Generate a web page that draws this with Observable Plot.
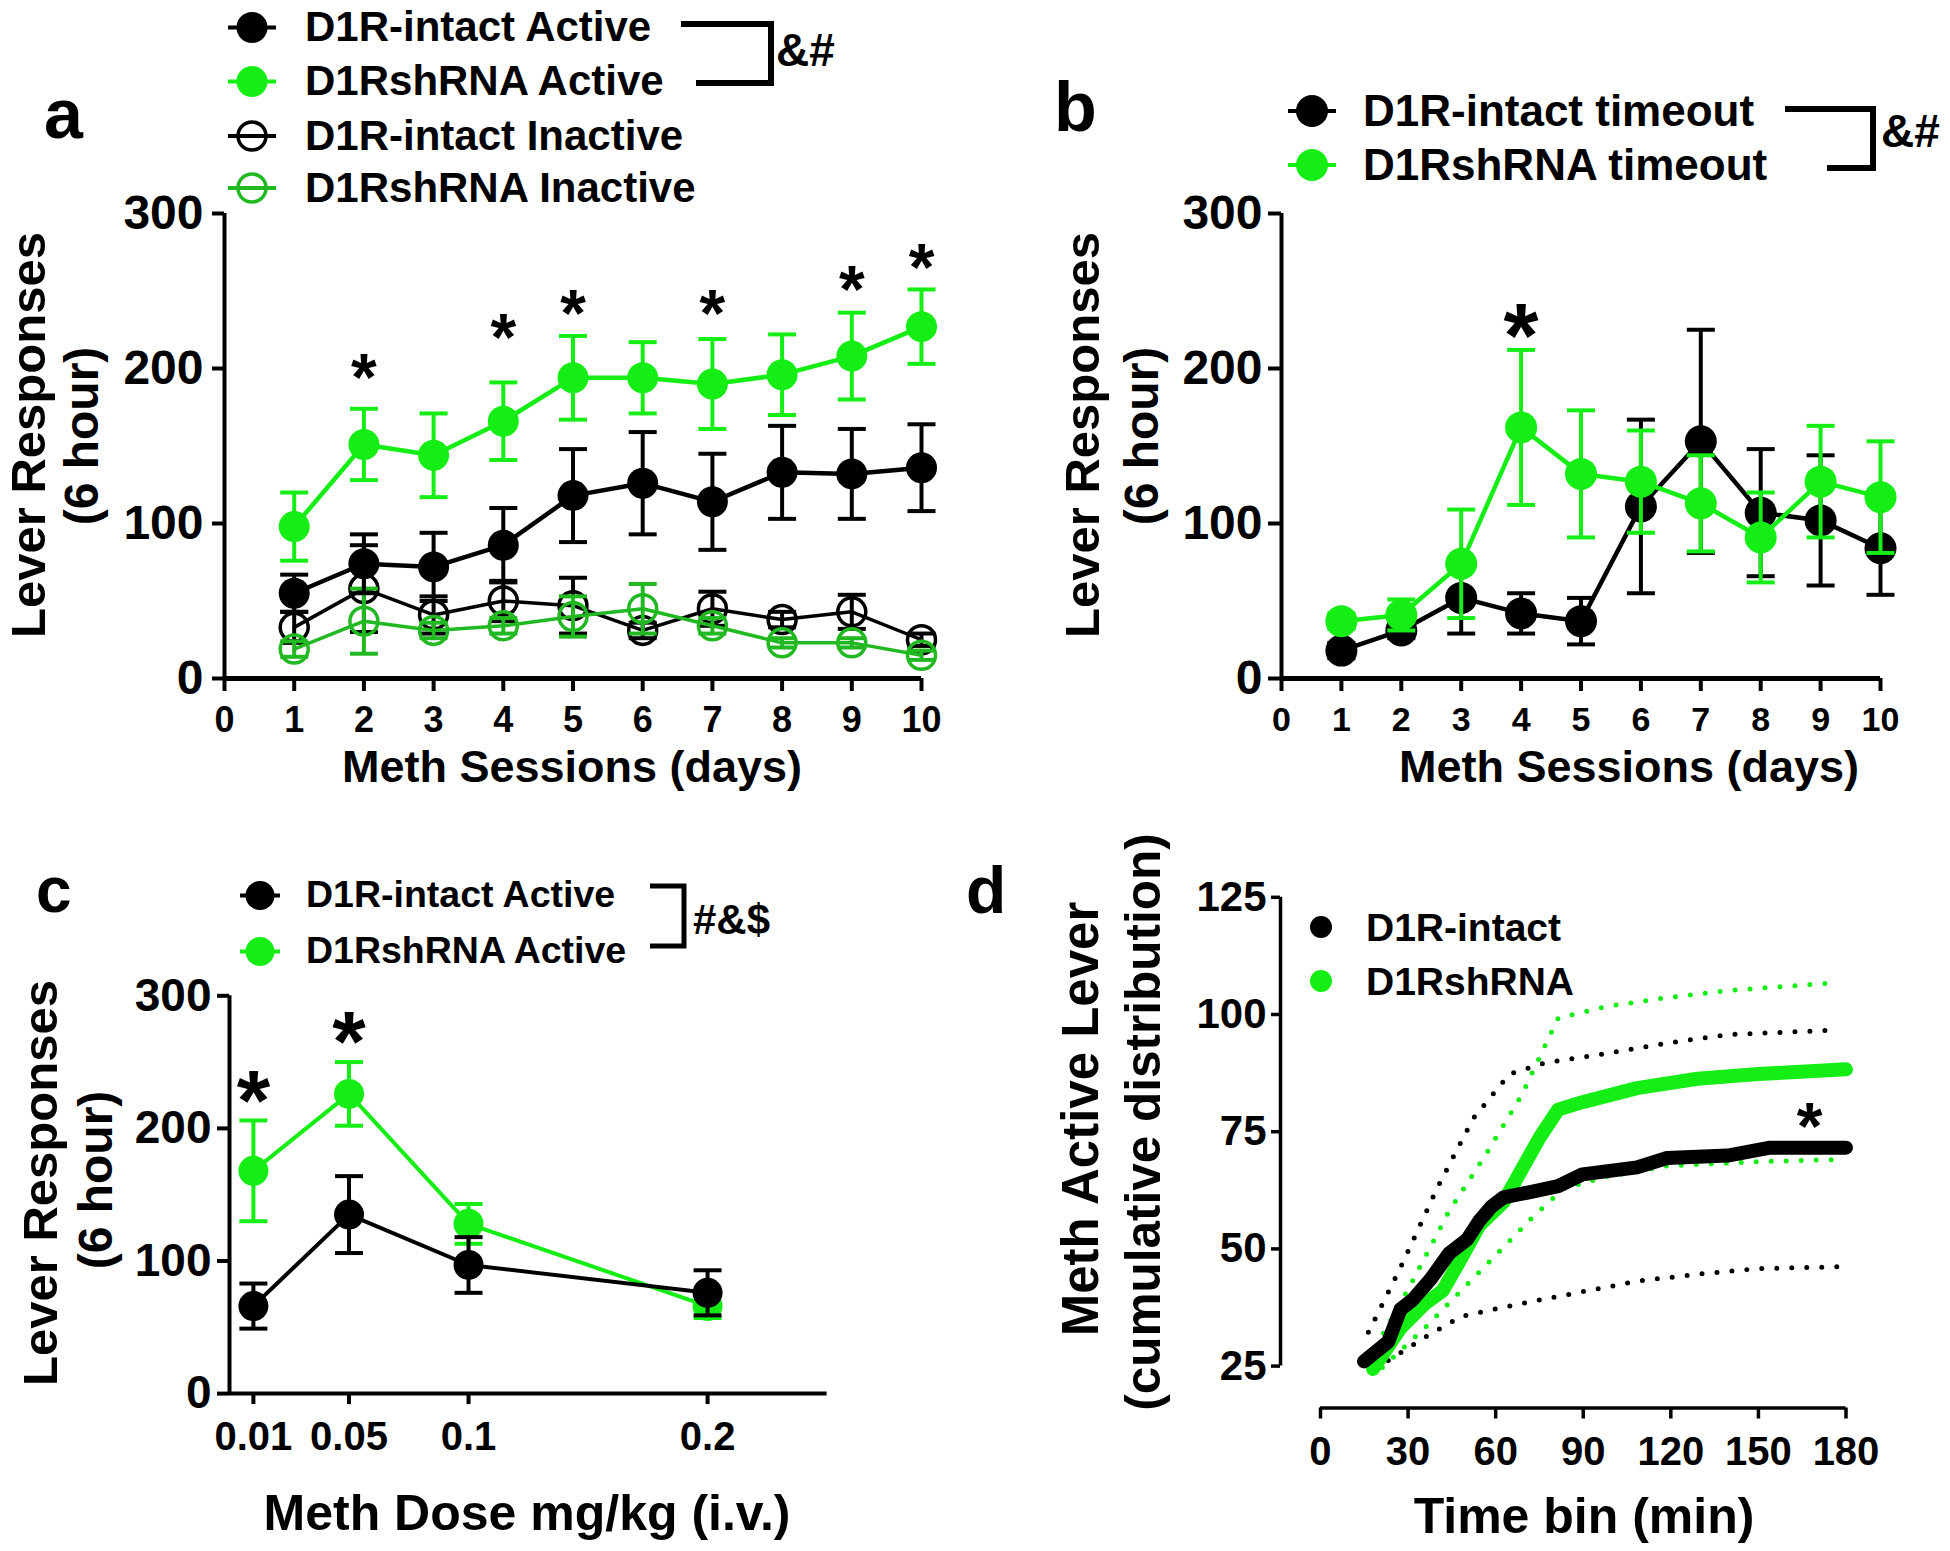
<!DOCTYPE html>
<html><head><meta charset="utf-8">
<script src="https://cdn.jsdelivr.net/npm/d3@7"></script>
<script src="https://cdn.jsdelivr.net/npm/@observablehq/plot@0.6"></script>
<style>
html,body{margin:0;padding:0;background:#fff;}
#fig{position:relative;width:1950px;height:1551px;overflow:hidden;font-family:'Liberation Sans',Arial,Helvetica,sans-serif;font-weight:bold;color:#000;background:#fff;}
.abs{position:absolute;white-space:nowrap;line-height:1;}
</style></head><body><div id="fig"></div>
<script>
// ---------------- DATA ----------------
const days = [1,2,3,4,5,6,7,8,9,10];
const dayTicks = [0,1,2,3,4,5,6,7,8,9,10];
const respTicks = [0,100,200,300];

// Panel a
const aIntActive = [55,74,72,86,118,126,114,133,132,136];
const aIntActiveSem = [12,19,22,24,30,33,31,30,29,28];
const aShActive = [98,151,144,166,194,194,190,196,208,227];
const aShActiveSem = [22,23,27,25,27,23,29,26,28,24];
const aIntInactive = [33,58,41,50,47,31,45,38,43,25];
const aIntInactiveSem = [10,28,12,13,18,5,11,5,11,4];
const aShInactive = [19,37,31,34,40,45,34,23,23,15];
const aShInactiveSem = [5,21,5,5,13,16,5,3,3,3];
const aStarDays = [2,4,5,7,9,10];
const aStarY = [204,230,245,245,261,275];
const aLegend = ["D1R-intact Active","D1RshRNA Active","D1R-intact Inactive","D1RshRNA Inactive"];

// Panel b
const bInt = [18,31,52,42,37,111,153,107,102,84];
const bIntSem = [5,5,23,13,15,56,72,41,42,30];
const bSh = [37,41,74,162,132,127,113,91,127,117];
const bShSem = [5,10,35,50,41,33,31,29,36,36];
const bStarDays = [4];
const bStarY = [234];
const bLegend = ["D1R-intact timeout","D1RshRNA timeout"];

// Panel c
const doses = [0.01,0.05,0.1,0.2];
const cInt = [66,135,97,76];
const cIntSem = [17,29,21,17];
const cSh = [168,226,128,66];
const cShSem = [38,24,15,9];
const cStarDoses = [0.01,0.05];
const cStarY = [236,280];
const cLegend = ["D1R-intact Active","D1RshRNA Active"];

// Panel d
const dIntT = [14.9,23.2,27.4,31.5,37.8,44,50.2,54.4,58.5,62.7,71,81.4,89.7,108.4,118.7,139.5,154,180];
const dIntV = [26,30.2,37.1,39.1,43.6,49,52,56,59,61,62,63.4,65.9,67.4,69.4,69.9,71.6,71.6];
const dShT = [18,27.4,35.7,41.9,48.2,54.4,62.7,68.9,75.1,81.4,89.7,108.4,129.1,149.9,180];
const dShV = [24.4,33.1,38.3,41.1,48,55,60,66.9,73.8,79.7,81.3,84.3,86.3,87.3,88.3];
const dIntUpT = [16.4,27.4,39.9,52.3,64.7,77.2,97.9,118.7,139.5,176.9];
const dIntUpV = [32.2,46,62.9,77.8,87.3,89.7,91.7,93.9,95.7,96.7];
const dIntLoT = [23.2,35.7,48.2,66.8,87.6,108.4,129.1,149.9,178.9];
const dIntLoV = [26.2,31.1,35.6,38.1,40.6,43.1,44.6,45.8,46.2];
const dShUpT = [19.1,31.5,44,56.4,68.9,77.2,81.4,97.9,118.7,139.5,176.9];
const dShUpV = [29.2,43.1,58,69.9,82.8,93.7,99.2,101.7,103.6,105.1,106.8];
const dShLoT = [21.2,35.7,48.2,60.6,73,83.4,97.9,118.7,149.9,178.9];
const dShLoV = [24.7,33.1,41.1,49,57,62.9,65.4,67.7,68.6,69.1];
const dXTicks = [0,30,60,90,120,150,180];
const dYTicks = [25,50,75,100,125];
const dXDomain = [-13.7,180];
const dYDomain = [16.06,125];
const dYAxisSpan = [25,125];
const dStarT = [167.5];
const dStarV = [79.3];
const dLegend = ["D1R-intact","D1RshRNA"];

// ---------------- STYLE ----------------
const FONT = "'Liberation Sans', Arial, Helvetica, sans-serif";
const BLACK = "#000";
const GREEN = "#14ee14";
const GREEN_DK = "#22b822";
const fig = document.getElementById("fig");

const cap = {draw(ctx, size){ const w = Math.sqrt(size/Math.PI); ctx.moveTo(-w,0); ctx.lineTo(w,0); }};

function rows(xs, ys, sems){ return xs.map((x,i)=>({x, y: ys[i], lo: ys[i]-(sems?sems[i]:0), hi: ys[i]+(sems?sems[i]:0)})); }
function pts(xs, ys){ return xs.map((x,i)=>({x, y: ys[i]})); }

function series(data, color, o){
  const m = [
    Plot.line(data, {x:"x", y:"y", stroke: color, strokeWidth: o.lineW}),
    Plot.ruleX(data, {x:"x", y1:"lo", y2:"hi", stroke: color, strokeWidth: o.ew}),
    Plot.dot(data, {x:"x", y:"lo", symbol: cap, r: o.capHalf, stroke: color, fill: "none", strokeWidth: o.ew}),
    Plot.dot(data, {x:"x", y:"hi", symbol: cap, r: o.capHalf, stroke: color, fill: "none", strokeWidth: o.ew})
  ];
  if (o.open) m.push(Plot.dot(data, {x:"x", y:"y", r: o.r, stroke: color, strokeWidth: 3.5, fill: "none"}));
  else m.push(Plot.dot(data, {x:"x", y:"y", r: o.r, fill: color, stroke: "none"}));
  return m;
}

function stars(xs, ys, size){
  return Plot.text(pts(xs, ys), {x:"x", y:"y", text: () => "*", fontSize: size, fontWeight: "bold", fontFamily: FONT, lineAnchor: "middle", dy: 0.25*size, fill: "black"});
}

function mount(svg, left, top){
  const d = document.createElement("div");
  d.className = "abs"; d.style.left = left+"px"; d.style.top = top+"px";
  d.appendChild(svg); fig.appendChild(d);
}
function text(t, x, y, size, opts={}){
  const d = document.createElement("div");
  d.className = "abs"; d.textContent = t; d.style.fontSize = size+"px";
  d.style.left = x+"px"; d.style.top = y+"px";
  if (opts.rotate) d.style.transform = "translate(-50%,-50%) rotate(-90deg)";
  else if (opts.center) d.style.transform = "translate(-50%,-50%)";
  else d.style.transform = "translateY(-50%)";
  fig.appendChild(d);
}
function legendSym(cx, cy, o){
  const w = 2*o.half+12, h = 2*(o.r||10)+12;
  const s = d3.create("svg").attr("width", w).attr("height", h).style("overflow","visible");
  const mx = w/2, my = h/2;
  if (o.half > 0) s.append("line").attr("x1", mx-o.half).attr("x2", mx+o.half).attr("y1", my).attr("y2", my).attr("stroke", o.color).attr("stroke-width", 4);
  s.append("circle").attr("cx", mx).attr("cy", my).attr("r", o.r)
    .attr("fill", o.open ? "none" : o.color).attr("stroke", o.open ? o.color : "none").attr("stroke-width", 3.5);
  const d = document.createElement("div"); d.className = "abs";
  d.style.left = (cx - w/2)+"px"; d.style.top = (cy - h/2)+"px";
  d.appendChild(s.node()); fig.appendChild(d);
}
function bracket(pathD, sw){
  const s = d3.create("svg").attr("width", 1950).attr("height", 1551).style("position","absolute").style("left","0").style("top","0").style("pointer-events","none");
  s.append("path").attr("d", pathD).attr("fill","none").attr("stroke","#000").attr("stroke-width", sw).attr("stroke-linejoin","miter");
  fig.appendChild(s.node());
}

const baseStyle = {background: "transparent", overflow: "visible", maxWidth: "none", color: "black", fontFamily: FONT};

// ---------------- PANEL A ----------------
const aOpts = {lineW: 4.5, ew: 4, capHalf: 14, r: 15.5};
const plotA = Plot.plot({
  width: 960, height: 620, marginLeft: 224, marginRight: 39, marginTop: 33, marginBottom: 122,
  x: {domain: [0,10]}, y: {domain: [0,300]}, style: baseStyle,
  marks: [
    Plot.ruleX([0], {stroke: BLACK, strokeWidth: 4}),
    Plot.ruleY([0], {stroke: BLACK, strokeWidth: 5}),
    Plot.axisY(respTicks, {tickSize: 12, tickPadding: 9, fontSize: 48, fontWeight: "bold", strokeWidth: 4, label: null}),
    Plot.axisX(dayTicks, {tickSize: 13, tickPadding: 15, fontSize: 36, fontWeight: "bold", strokeWidth: 4, label: null}),
    ...series(rows(days, aIntInactive, aIntInactiveSem), BLACK, {...aOpts, lineW: 3.5, open: true, r: 14}),
    ...series(rows(days, aShInactive, aShInactiveSem), GREEN_DK, {...aOpts, lineW: 3.5, open: true, r: 14}),
    ...series(rows(days, aIntActive, aIntActiveSem), BLACK, aOpts),
    ...series(rows(days, aShActive, aShActiveSem), GREEN, aOpts),
    stars(aStarDays, aStarY, 66)
  ]
});
mount(plotA, 0, 180);

// ---------------- PANEL B ----------------
const bOpts = {lineW: 4.5, ew: 4, capHalf: 14, r: 16};
const plotB = Plot.plot({
  width: 960, height: 620, marginLeft: 306, marginRight: 55, marginTop: 33, marginBottom: 122,
  x: {domain: [0,10]}, y: {domain: [0,300]}, style: baseStyle,
  marks: [
    Plot.ruleX([0], {stroke: BLACK, strokeWidth: 4}),
    Plot.ruleY([0], {stroke: BLACK, strokeWidth: 5}),
    Plot.axisY(respTicks, {tickSize: 13, tickPadding: 6, fontSize: 48, fontWeight: "bold", strokeWidth: 4, label: null}),
    Plot.axisX(dayTicks, {tickSize: 13, tickPadding: 15, fontSize: 34, fontWeight: "bold", strokeWidth: 4, label: null}),
    ...series(rows(days, bInt, bIntSem), BLACK, bOpts),
    ...series(rows(days, bSh, bShSem), GREEN, bOpts),
    stars(bStarDays, bStarY, 90)
  ]
});
mount(plotB, 975, 180);

// ---------------- PANEL C ----------------
const cOpts = {lineW: 4, ew: 4, capHalf: 14, r: 15};
const plotC = Plot.plot({
  width: 900, height: 590, marginLeft: 229, marginRight: 73.4, marginTop: 35.3, marginBottom: 156.9,
  x: {domain: [0,0.25]}, y: {domain: [0,300]}, style: baseStyle,
  marks: [
    Plot.ruleX([0], {stroke: BLACK, strokeWidth: 4}),
    Plot.ruleY([0], {stroke: BLACK, strokeWidth: 4}),
    Plot.axisY(respTicks, {tickSize: 12, tickPadding: 6, fontSize: 46, fontWeight: "bold", strokeWidth: 4, label: null}),
    Plot.axisX(doses, {tickSize: 11, tickPadding: 17, fontSize: 40, fontWeight: "bold", strokeWidth: 4, label: null, tickFormat: d => String(d)}),
    ...series(rows(doses, cSh, cShSem), GREEN, cOpts),
    ...series(rows(doses, cInt, cIntSem), BLACK, cOpts),
    stars(cStarDoses, cStarY, 86)
  ]
});
mount(plotC, 0, 960);

// ---------------- PANEL D ----------------
const dotted = {strokeWidth: 5, strokeDasharray: "0 15", strokeLinecap: "round"};
const plotD = Plot.plot({
  width: 975, height: 690, marginLeft: 305, marginRight: 104.5, marginTop: 36.8, marginBottom: 142.5,
  x: {domain: dXDomain}, y: {domain: dYDomain}, style: baseStyle,
  marks: [
    Plot.ruleX([dXDomain[0]], {y1: dYAxisSpan[0], y2: dYAxisSpan[1], stroke: BLACK, strokeWidth: 3.5}),
    Plot.axisY(dYTicks, {anchor: "left", tickSize: 9, tickPadding: 5, fontSize: 42, fontWeight: "bold", strokeWidth: 3.5, label: null}),
    Plot.ruleY([dYDomain[0]], {x1: dXTicks[0], x2: dXTicks[dXTicks.length-1], stroke: BLACK, strokeWidth: 3.5}),
    Plot.axisX(dXTicks, {anchor: "bottom", tickSize: 11, tickPadding: 18, fontSize: 40, fontWeight: "bold", strokeWidth: 3.5, label: null}),
    Plot.line(pts(dIntUpT, dIntUpV), {x:"x", y:"y", stroke: BLACK, ...dotted}),
    Plot.line(pts(dIntLoT, dIntLoV), {x:"x", y:"y", stroke: BLACK, ...dotted}),
    Plot.line(pts(dShUpT, dShUpV), {x:"x", y:"y", stroke: GREEN, ...dotted}),
    Plot.line(pts(dShLoT, dShLoV), {x:"x", y:"y", stroke: GREEN, ...dotted}),
    Plot.line(pts(dShT, dShV), {x:"x", y:"y", stroke: GREEN, strokeWidth: 14, strokeLinecap: "round", strokeLinejoin: "round"}),
    Plot.line(pts(dIntT, dIntV), {x:"x", y:"y", stroke: BLACK, strokeWidth: 14, strokeLinecap: "round", strokeLinejoin: "round"}),
    stars(dStarT, dStarV, 66)
  ]
});
mount(plotD, 975, 860);

// ---------------- LEGENDS / LABELS ----------------
// panel letters
text("a", 44, 114, 70);
text("b", 1054, 107, 70);
text("c", 36, 890, 64);
text("d", 966, 890, 66);

// panel a legend
const aRowsY = [27, 81, 136, 188];
const aCols = [BLACK, GREEN, BLACK, GREEN_DK];
aLegend.forEach((t,i)=>{
  legendSym(252, aRowsY[i], {color: aCols[i], open: i>=2, r: i>=2 ? 14 : 15.5, half: 24});
  text(t, 305, aRowsY[i], 42);
});
bracket("M681,24 H771 V83 H696", 6);
text("&#", 776, 50, 46);

// panel b legend
const bRowsY = [111, 165];
bLegend.forEach((t,i)=>{
  legendSym(1312, bRowsY[i], {color: i ? GREEN : BLACK, open: false, r: 16, half: 24});
  text(t, 1363, bRowsY[i], 44);
});
bracket("M1785,109 H1873 V168 H1827", 6);
text("&#", 1881, 131, 46);

// panel c legend
const cRowsY = [895, 951];
cLegend.forEach((t,i)=>{
  legendSym(260, cRowsY[i], {color: i ? GREEN : BLACK, open: false, r: 14.5, half: 20});
  text(t, 306, cRowsY[i], 37.5);
});
bracket("M650,886 H684 V946 H650", 5);
text("#&$", 693, 920, 42);

// panel d legend
const dRowsY = [927, 981];
dLegend.forEach((t,i)=>{
  legendSym(1321, dRowsY[i], {color: i ? GREEN : BLACK, open: false, r: 11, half: 0});
  text(t, 1366, dRowsY[i], 39);
});

// axis titles
text("Lever Responses", 28, 435, 49, {rotate: true});
text("(6 hour)", 82, 436, 48, {rotate: true});
text("Meth Sessions (days)", 572, 766, 45, {center: true});

text("Lever Responses", 1082, 435, 49, {rotate: true});
text("(6 hour)", 1142, 436, 48, {rotate: true});
text("Meth Dose mg/kg (i.v.)", 527, 1513, 50, {center: true});

text("Lever Responses", 40, 1183, 49, {rotate: true});
text("(6 hour)", 96, 1180, 48, {rotate: true});

text("Meth Active Lever", 1080, 1119, 51, {rotate: true});
text("(cumulative distribution)", 1143, 1122, 49.5, {rotate: true});
text("Time bin (min)", 1584, 1516, 50, {center: true});
text("Meth Sessions (days)", 1629, 766, 45, {center: true});
</script></body></html>
